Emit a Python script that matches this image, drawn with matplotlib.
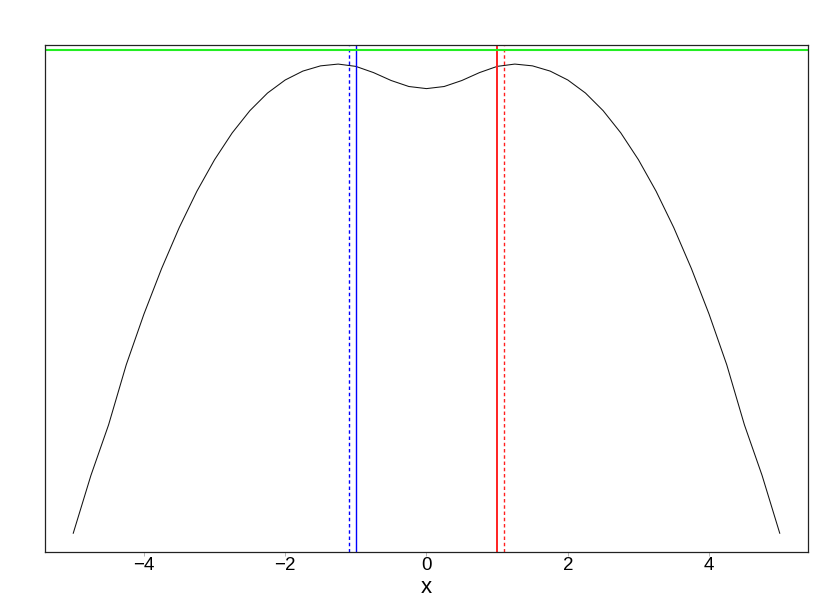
import matplotlib
matplotlib.use("Agg")
import matplotlib.pyplot as plt

# ---- data ----
x_vals = [-5.0, -4.75, -4.5, -4.25, -4.0, -3.75, -3.5, -3.25, -3.0, -2.75, -2.5,
          -2.25, -2.0, -1.75, -1.5, -1.25, -1.0, -0.75, -0.5, -0.25, 0.0,
          0.25, 0.5, 0.75, 1.0, 1.25, 1.5, 1.75, 2.0, 2.25, 2.5,
          2.75, 3.0, 3.25, 3.5, 3.75, 4.0, 4.25, 4.5, 4.75, 5.0]
y_vals = [-12.686, -11.037, -9.594, -7.880, -6.437, -5.137, -3.966, -2.929, -2.029, -1.263, -0.629,
          -0.126, 0.246, 0.500, 0.649, 0.700, 0.634, 0.457, 0.231, 0.060, 0.0,
          0.060, 0.231, 0.457, 0.634, 0.700, 0.649, 0.500, 0.246, -0.126, -0.629,
          -1.263, -2.029, -2.929, -3.966, -5.137, -6.437, -7.880, -9.594, -11.037, -12.686]
x_ticks = [-4, -2, 0, 2, 4]
vline_solid_blue = -1.0
vline_dash_blue = -1.1
vline_solid_red = 1.0
vline_dash_red = 1.1
hline_green = 1.106
x_label = "x"

plt.rcParams['font.family'] = ['Liberation Sans Narrow', 'Liberation Sans', 'DejaVu Sans']

fig = plt.figure(figsize=(8.30, 6.09), dpi=100)
ax = fig.add_axes([0.0542, 0.0936, 0.9193, 0.832])

ax.plot(x_vals, y_vals, color='#111111', lw=0.75)
ax.axvline(vline_solid_blue, color='#0000ff', lw=1.0, snap=True)
ax.axvline(vline_dash_blue, color='#0000ff', lw=1.0, ls=(0, (2.5, 2)), snap=True)
ax.axvline(vline_solid_red, color='#ff2020', lw=1.4, snap=True)
ax.axvline(vline_dash_red, color='#ff2020', lw=1.0, ls=(0, (2.5, 2)), snap=True)
ax.axhline(hline_green, color='#22ee22', lw=1.5, snap=True)

xr = max(x_vals) - min(x_vals)
yr = max(y_vals) - min(y_vals)
ax.set_xlim(min(x_vals) - 0.04 * xr, max(x_vals) + 0.04 * xr)
ax.set_ylim(min(y_vals) - 0.04 * yr, max(y_vals) + 0.04 * yr)

ax.set_xticks(x_ticks)
ax.set_xticklabels(["\u2212" + str(abs(t)) if t < 0 else str(t) for t in x_ticks])
ax.tick_params(axis='x', length=3, width=0.6, pad=0.5, labelsize=13.5, color='#aaaaaa')
ax.set_yticks([])
for s in ax.spines.values():
    s.set_linewidth(0.9)
    s.set_color('#222222')
ax.set_xlabel(x_label, fontsize=16, labelpad=2)

fig.savefig("out.png", dpi=100)
